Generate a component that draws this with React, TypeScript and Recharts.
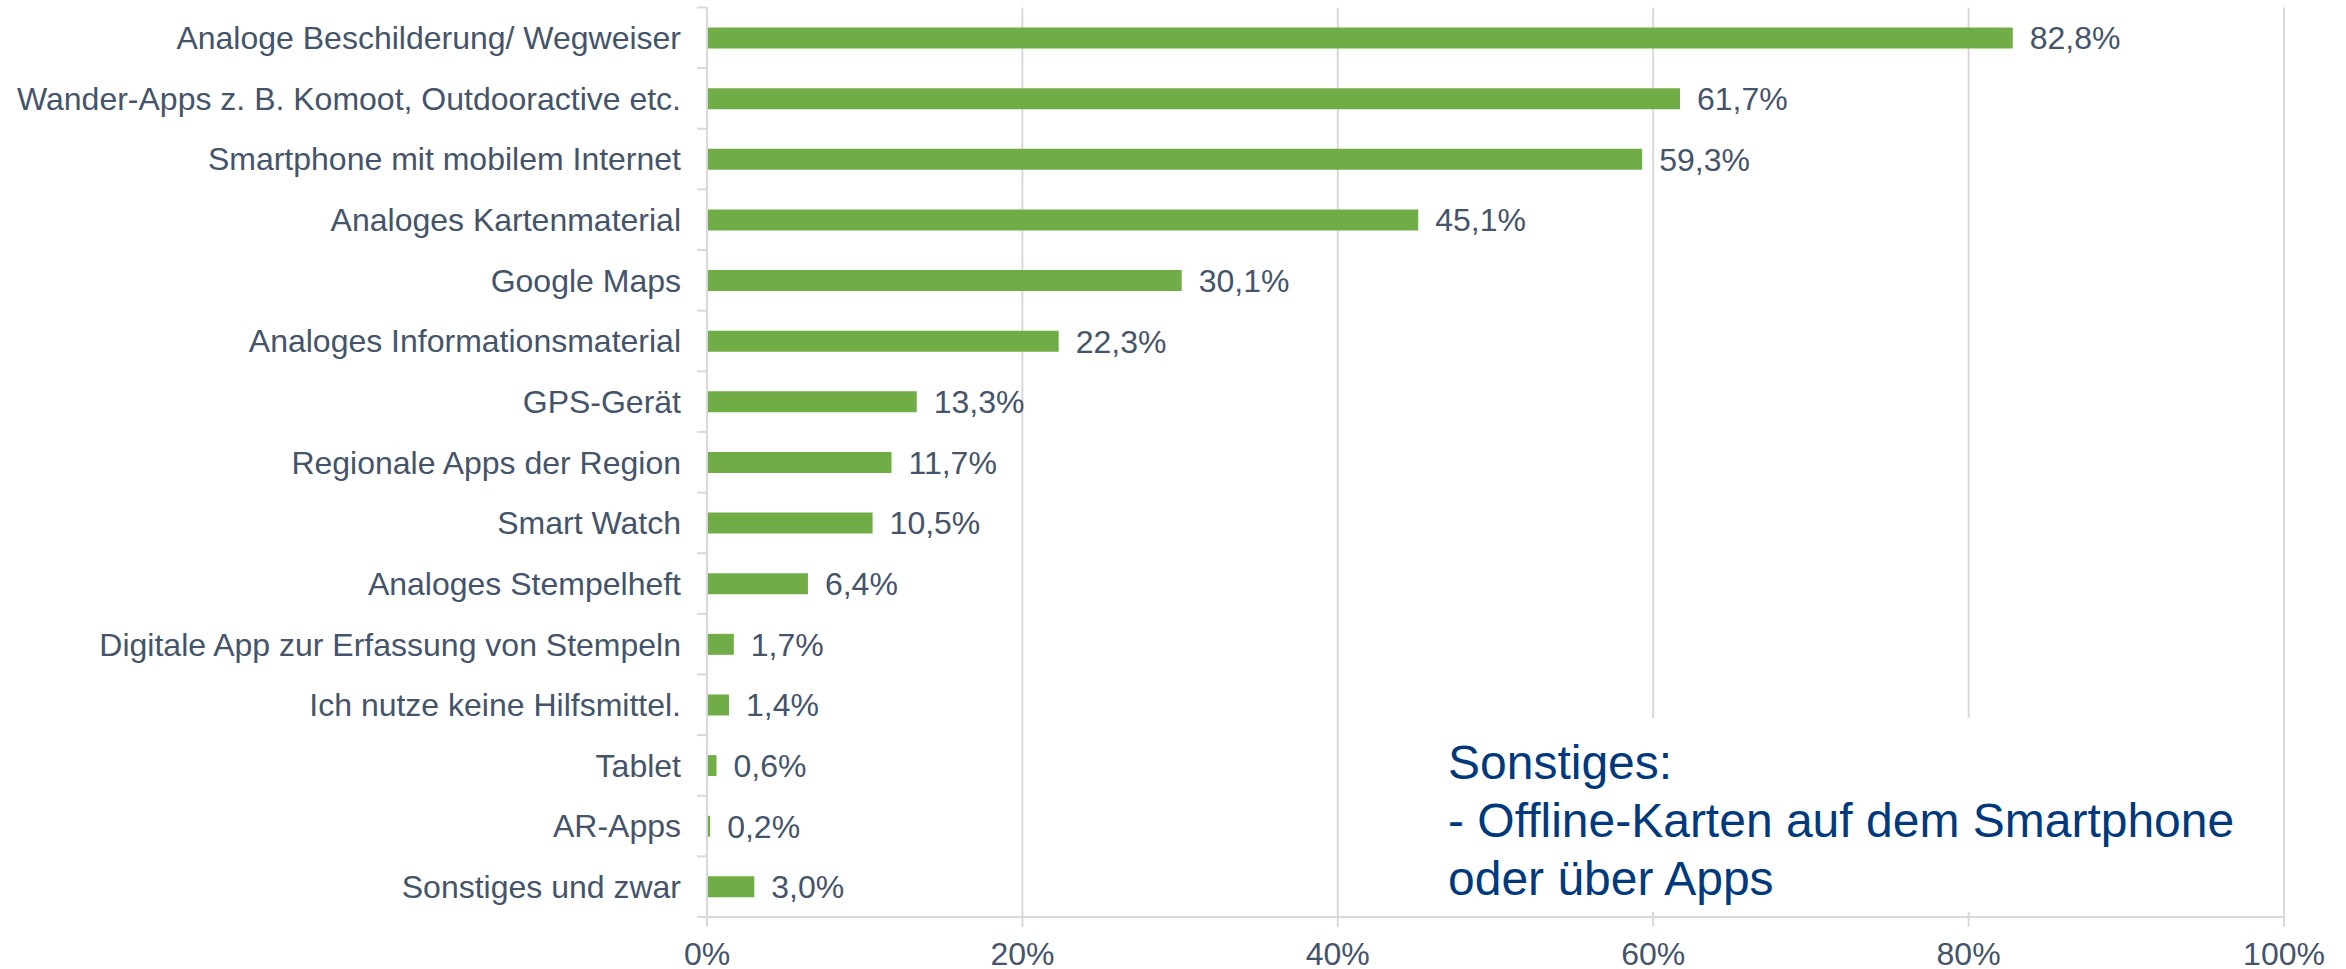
import React from "react";
import { BarChart, Bar, XAxis, YAxis, CartesianGrid, LabelList } from "recharts";

const categories = [
  "Analoge Beschilderung/ Wegweiser",
  "Wander-Apps z. B. Komoot, Outdooractive etc.",
  "Smartphone mit mobilem Internet",
  "Analoges Kartenmaterial",
  "Google Maps",
  "Analoges Informationsmaterial",
  "GPS-Gerät",
  "Regionale Apps der Region",
  "Smart Watch",
  "Analoges Stempelheft",
  "Digitale App zur Erfassung von Stempeln",
  "Ich nutze keine Hilfsmittel.",
  "Tablet",
  "AR-Apps",
  "Sonstiges und zwar",
];
const values = [82.8, 61.7, 59.3, 45.1, 30.1, 22.3, 13.3, 11.7, 10.5, 6.4, 1.7, 1.4, 0.6, 0.2, 3.0];
const xTicks = [0, 20, 40, 60, 80, 100];
const noteLines = ["Sonstiges:", "- Offline-Karten auf dem Smartphone", "oder über Apps"];

const data = categories.map((name, i) => ({ name, value: values[i] }));

const W = 2346;
const H = 969;
const TOP = 7.5;
const BOTTOM = 52;
const AXIS_X = 707;
const RIGHT = 62;
const BAND = (H - TOP - BOTTOM) / categories.length;
const TEXT = "#44546A";
const GRID = "#D9D9D9";
const FONT = "'Liberation Sans', Arial, sans-serif";
const FS = 32;

const CategoryTick = (props: any) => {
  const { y, payload, index } = props;
  return (
    <g>
      <line x1={AXIS_X - 10} x2={AXIS_X} y1={y - BAND / 2} y2={y - BAND / 2} stroke={GRID} strokeWidth={2} />
      {index === categories.length - 1 && (
        <line x1={AXIS_X - 10} x2={AXIS_X} y1={y + BAND / 2} y2={y + BAND / 2} stroke={GRID} strokeWidth={2} />
      )}
      <text x={AXIS_X - 26} y={y} dy="0.355em" textAnchor="end" fill={TEXT} fontSize={FS} fontFamily={FONT}>
        {payload.value}
      </text>
    </g>
  );
};

const fmt = (v: any) => Number(v).toFixed(1).replace(".", ",") + "%";

export default function App() {
  return (
    <div style={{ position: "absolute", left: 0, top: 0, width: W, height: H, background: "#fff" }}>
      <BarChart
        width={W}
        height={H}
        data={data}
        layout="vertical"
        margin={{ top: TOP, right: RIGHT, left: 0, bottom: 0 }}
        barCategoryGap={0}
      >
        <CartesianGrid horizontal={false} stroke={GRID} strokeWidth={2} />
        <XAxis
          type="number"
          domain={[0, 100]}
          ticks={xTicks}
          tickFormatter={(v) => `${v}%`}
          axisLine={{ stroke: GRID, strokeWidth: 2 }}
          tickLine={{ stroke: GRID, strokeWidth: 2 }}
          tickSize={10}
          tickMargin={15}
          tick={{ fill: TEXT, fontSize: FS, fontFamily: FONT }}
          height={BOTTOM}
        />
        <YAxis
          type="category"
          dataKey="name"
          width={AXIS_X}
          axisLine={{ stroke: GRID, strokeWidth: 2 }}
          tickLine={false}
          tick={<CategoryTick />}
          interval={0}
        />
        <Bar dataKey="value" fill="#70AD47" barSize={21} isAnimationActive={false}>
          <LabelList
            dataKey="value"
            position="right"
            offset={17}
            formatter={fmt}
            fill={TEXT}
            fontSize={FS}
            fontFamily={FONT}
          />
        </Bar>
      </BarChart>
      <div
        style={{
          position: "absolute",
          left: 1430,
          top: 718,
          width: 848,
          height: 194,
          background: "#fff",
          boxSizing: "border-box",
          paddingLeft: 18,
          paddingTop: 16,
          color: "#003A7D",
          fontFamily: FONT,
          fontSize: 48,
          lineHeight: "58px",
        }}
      >
        {noteLines.map((l) => (
          <div key={l}>{l}</div>
        ))}
      </div>
    </div>
  );
}
